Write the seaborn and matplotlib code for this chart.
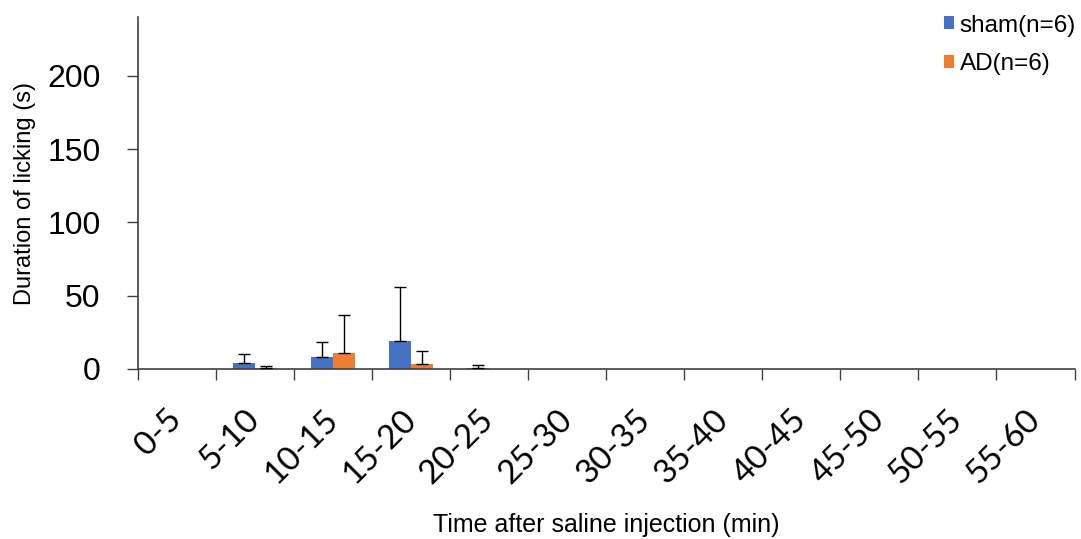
import numpy as np
import pandas as pd
import matplotlib
matplotlib.use("Agg")
import matplotlib.pyplot as plt
import seaborn as sns

# Licking duration per 5-min bin after saline injection
bins = ["0-5", "5-10", "10-15", "15-20", "20-25", "25-30",
        "30-35", "35-40", "40-45", "45-50", "50-55", "55-60"]
sham_mean = [0, 4.0, 8.5, 19.0, 0.5, 0, 0, 0, 0, 0, 0, 0]
sham_sd = [0, 6.5, 10.0, 37.0, 2.5, 0, 0, 0, 0, 0, 0, 0]
ad_mean = [0, 1.0, 11.0, 3.5, 0, 0, 0, 0, 0, 0, 0, 0]
ad_sd = [0, 1.0, 26.0, 9.0, 0, 0, 0, 0, 0, 0, 0, 0]
groups = ["sham(n=6)", "AD(n=6)"]
colors = ["#4472C4", "#ED7D31"]

df = pd.DataFrame({
    "bin": bins * 2,
    "value": sham_mean + ad_mean,
    "group": [groups[0]] * len(bins) + [groups[1]] * len(bins),
})
errs = {groups[0]: sham_sd, groups[1]: ad_sd}

sns.set_style("white")
plt.rcParams["font.family"] = ["Liberation Sans", "DejaVu Sans"]
plt.rcParams["text.color"] = "black"
plt.rcParams["axes.labelcolor"] = "black"
plt.rcParams["xtick.color"] = "black"
plt.rcParams["ytick.color"] = "black"

fig = plt.figure(figsize=(10.81, 5.39), dpi=100)
ax = fig.add_axes([0.1277, 0.3154, 0.8663, 0.6526])

sns.barplot(data=df, x="bin", y="value", hue="group", order=bins,
            hue_order=groups, palette=colors, width=0.565, gap=0,
            errorbar=None, ax=ax, saturation=1, edgecolor="none")

# Upper-only error bars on each bar
for container, g in zip(ax.containers, groups):
    for patch, v, e in zip(container.patches, df[df.group == g]["value"], errs[g]):
        xc = patch.get_x() + patch.get_width() / 2
        if e > 0:
            ax.errorbar(xc, v, yerr=[[0], [e]], fmt="none", ecolor="black",
                        elinewidth=1, capsize=4.5, capthick=1, zorder=3)

ax.set_ylim(0, 240)
ax.set_xlim(-0.5, len(bins) - 0.5)
ax.set_yticks([0, 50, 100, 150, 200])
ax.tick_params(axis="y", labelsize=23, length=8, width=1,
               direction="out", left=True, pad=19)
ax.set_xticks(np.arange(-0.5, len(bins), 1), minor=True)
ax.tick_params(axis="x", which="minor", length=8, width=1,
               direction="out", bottom=True)
ax.set_xticks(range(len(bins)))
ax.tick_params(axis="x", which="major", length=0, pad=33)
ax.set_xticklabels(bins, rotation=45, ha="right", va="center",
                   rotation_mode="anchor",
                   fontsize=24, family=["Lato", "DejaVu Sans"])

for s in ["top", "right"]:
    ax.spines[s].set_visible(False)
for s in ["left", "bottom"]:
    ax.spines[s].set_color("#404040")
    ax.spines[s].set_linewidth(1.2)
ax.tick_params(axis="both", which="both", color="#404040")

ax.set_xlabel("Time after saline injection (min)", fontsize=18, labelpad=17)
ax.set_ylabel("Duration of licking (s)", fontsize=17, labelpad=8)

leg = ax.legend(loc="upper right", bbox_to_anchor=(1.025, 1.07), frameon=False,
                fontsize=17.5, handlelength=0.42, handleheight=0.45,
                handletextpad=0.25, labelspacing=0.67)

fig.savefig("out.png", dpi=100)
